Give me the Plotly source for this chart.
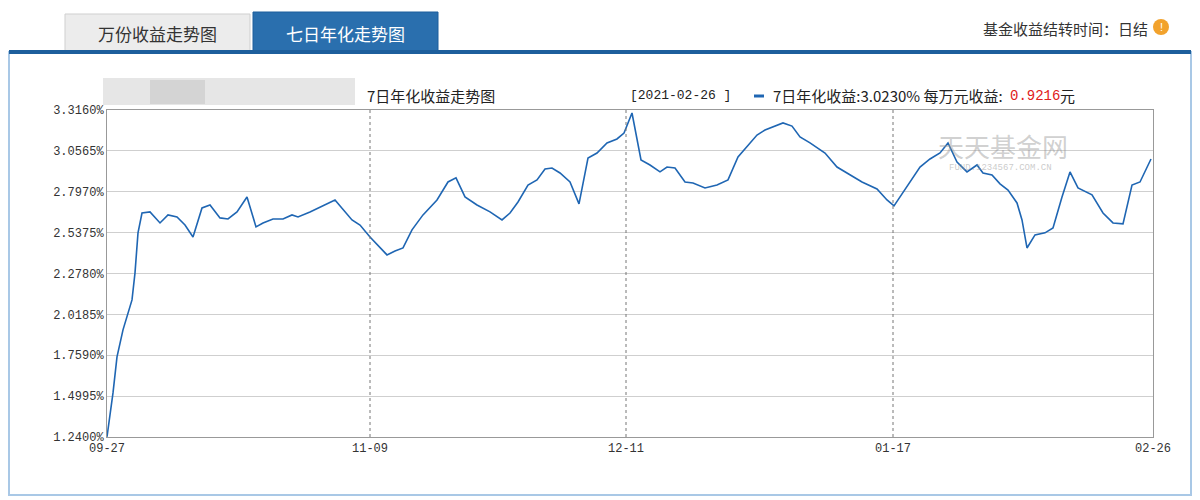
import plotly.graph_objects as go

# x: position along the sequence axis (0 = 09-27, 1046 = 02-26)
seq_pos = [0, 6, 10, 16, 25, 28, 31, 35, 43, 53, 61, 70, 78, 86, 95, 103, 113, 121, 130, 140,
           149, 156, 166, 176, 185, 191, 203, 228, 245, 253, 263, 273, 280, 288, 296, 305,
           316, 330, 341, 349, 358, 370, 383, 395, 403, 411, 421, 430, 438, 445, 453, 463,
           472, 481, 490, 500, 510, 517, 525, 534, 543, 553, 560, 568, 578, 586, 598, 610,
           621, 631, 640, 650, 658, 668, 676, 685, 693, 703, 718, 730, 743, 755, 770, 780,
           787, 800, 813, 823, 833, 841, 850, 860, 870, 876, 885, 893, 901, 910, 915, 920,
           928, 938, 946, 955, 963, 971, 985, 996, 1006, 1016, 1025, 1033, 1044]
yield_7d = [1.241, 1.520, 1.749, 1.920, 2.110, 2.282, 2.536, 2.662, 2.669, 2.599, 2.650,
            2.637, 2.586, 2.510, 2.694, 2.713, 2.631, 2.624, 2.669, 2.764, 2.574, 2.599,
            2.624, 2.624, 2.650, 2.637, 2.669, 2.745, 2.618, 2.586, 2.510, 2.440, 2.396,
            2.421, 2.440, 2.555, 2.650, 2.745, 2.859, 2.885, 2.764, 2.713, 2.669, 2.618,
            2.662, 2.732, 2.840, 2.872, 2.942, 2.948, 2.916, 2.859, 2.720, 3.011, 3.043,
            3.107, 3.132, 3.170, 3.297, 2.999, 2.967, 2.923, 2.954, 2.948, 2.859, 2.853,
            2.821, 2.840, 2.872, 3.018, 3.081, 3.157, 3.189, 3.214, 3.234, 3.214, 3.145,
            3.107, 3.043, 2.954, 2.904, 2.859, 2.815, 2.745, 2.707, 2.827, 2.954, 3.005,
            3.043, 3.107, 2.986, 2.923, 2.967, 2.916, 2.904, 2.847, 2.808, 2.726, 2.618,
            2.440, 2.523, 2.536, 2.567, 2.764, 2.923, 2.821, 2.777, 2.662, 2.599, 2.593,
            2.840, 2.859, 3.005]

tick_pos = [0, 263, 519, 786, 1046]
tick_labels = ["09-27", "11-09", "12-11", "01-17", "02-26"]
y_ticks = [1.2400, 1.4995, 1.7590, 2.0185, 2.2780, 2.5375, 2.7970, 3.0565, 3.3160]
y_labels = ["%.4f%%" % v for v in y_ticks]

mono = "Liberation Mono, DejaVu Sans Mono, monospace"
cjk = "Noto Sans CJK SC, sans-serif"

# page body has an 8px margin, so the figure sits at (8, 8) in the screenshot
OFF = 8
W, H = 1200.0, 500.0
L, R, T, B = 99, 55, 102, 71
pw, ph = W - L - R, H - T - B


def px(x):
    return (x - OFF - L) / pw


def py(y):
    return (H - B - (y - OFF)) / ph


fig = go.Figure()
fig.add_trace(go.Scatter(x=seq_pos, y=yield_7d, mode="lines",
                         line=dict(color="#1f66b3", width=1.6), hoverinfo="skip"))

shapes = []
for p in tick_pos[1:-1]:
    shapes.append(dict(type="line", xref="x", yref="paper", x0=p, x1=p, y0=0, y1=1,
                       line=dict(color="#777", width=1, dash="dot")))

chrome = [
    dict(type="rect", x0=px(9), x1=px(1191), y0=py(495), y1=py(52),
         line=dict(color="#a9c8e6", width=2), fillcolor="rgba(0,0,0,0)", layer="below"),
    dict(type="rect", x0=px(65), x1=px(250), y0=py(52), y1=py(14),
         line=dict(color="#cfcfcf", width=1), fillcolor="#ececec", layer="below"),
    dict(type="rect", x0=px(253), x1=px(438), y0=py(52), y1=py(12),
         line=dict(color="#1d5f9c", width=1), fillcolor="#2a6fae", layer="below"),
    dict(type="line", x0=px(9), x1=px(1191), y0=py(52), y1=py(52),
         line=dict(color="#1d5f9c", width=4)),
    dict(type="rect", x0=px(103), x1=px(355), y0=py(105), y1=py(78),
         line=dict(width=0), fillcolor="#e6e6e6", layer="below"),
    dict(type="rect", x0=px(150), x1=px(205), y0=py(104), y1=py(80),
         line=dict(width=0), fillcolor="#d4d4d4", layer="below"),
    dict(type="circle", x0=px(1153), x1=px(1169), y0=py(35), y1=py(19),
         line=dict(width=0), fillcolor="#f2a22c"),
    dict(type="line", x0=px(754), x1=px(764), y0=py(96), y1=py(96),
         line=dict(color="#1f66b3", width=3)),
]
for s in chrome:
    s.update(xref="paper", yref="paper")

fig.update_layout(
    width=1200, height=500, margin=dict(l=L, r=R, t=T, b=B),
    paper_bgcolor="white", plot_bgcolor="white", showlegend=False,
    shapes=shapes + chrome,
    xaxis=dict(range=[0, 1046], tickvals=tick_pos, ticktext=tick_labels, showgrid=False,
               zeroline=False, showline=True, linecolor="#999", mirror=True, ticks="",
               tickfont=dict(family=mono, size=12, color="#333")),
    yaxis=dict(range=[1.24, 3.316], tickvals=y_ticks, ticktext=y_labels, showgrid=True,
               gridcolor="#cfcfcf", zeroline=False, showline=True, linecolor="#999",
               mirror=True, ticks="", tickfont=dict(family=mono, size=12, color="#333")),
)

texts = [
    (157, 33, "万份收益走势图", 17, "#333", cjk, "center"),
    (345, 33, "七日年化走势图", 17, "white", cjk, "center"),
    (1150, 28, "基金收益结转时间：日结", 15, "#333", cjk, "right"),
    (365, 96, "7日年化收益走势图", 15, "#222", cjk, "left"),
    (628, 96, "[2021-02-26 ]", 13, "#222", mono, "left"),
    (771, 96, "7日年化收益:3.0230% 每万元收益:", 15, "#222", cjk, "left"),
    (1008, 96, "0.9216", 14, "#e02020", mono, "left"),
    (1058, 96, "元", 15, "#222", cjk, "left"),
    (1003, 145, "天天基金网", 26, "rgba(150,150,150,0.45)", cjk, "center"),
    (1000, 168, "FUND.1234567.COM.CN", 9, "rgba(150,150,150,0.5)", mono, "center"),
    (1161, 27, "!", 11, "white", "Liberation Sans", "center"),
]
for x, y, t, size, color, fam, anchor in texts:
    fig.add_annotation(x=px(x), y=py(y), xref="paper", yref="paper", text=t, showarrow=False,
                       xanchor=anchor, yanchor="middle",
                       font=dict(size=size, color=color, family=fam))

fig.write_html("out.html")
